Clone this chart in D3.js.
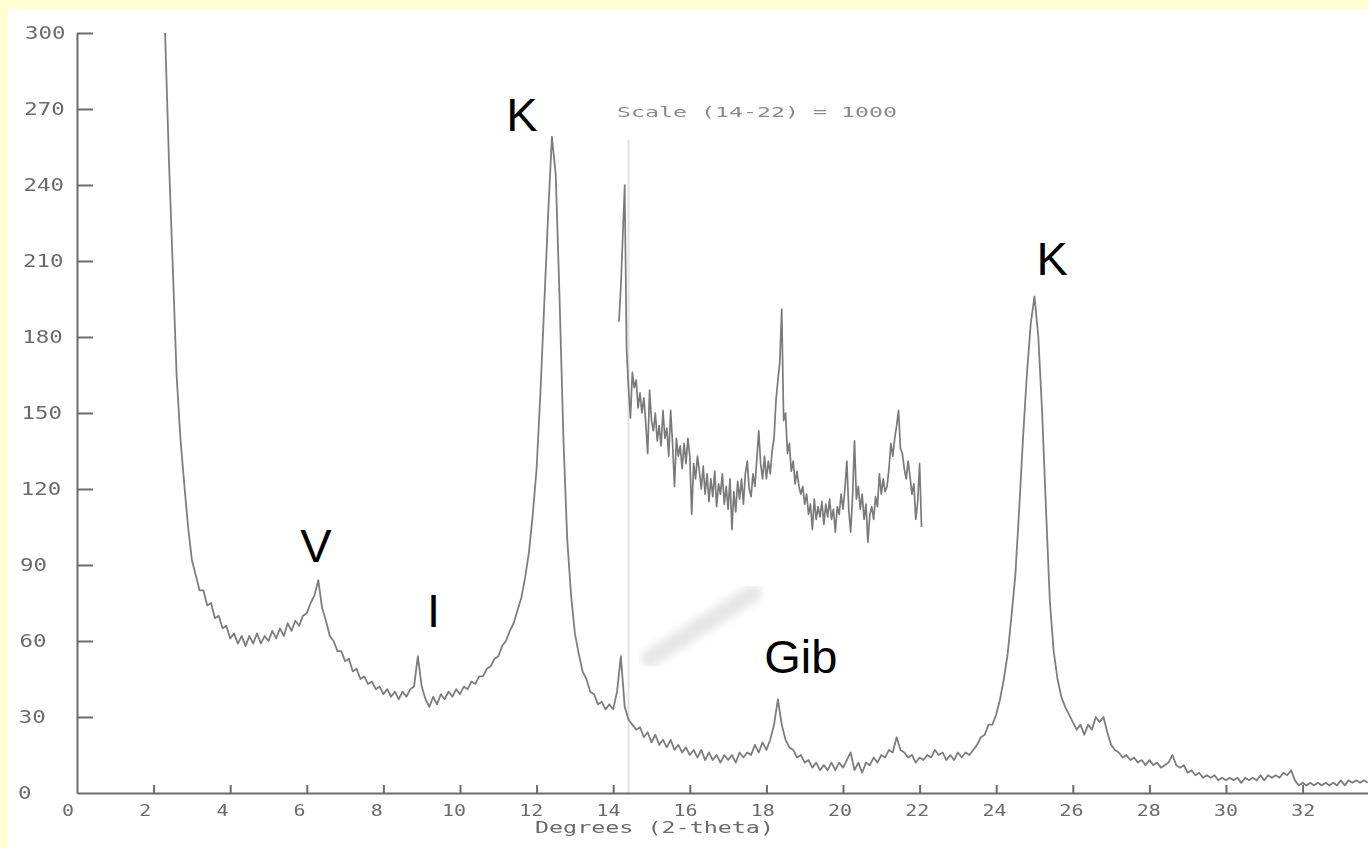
<!DOCTYPE html>
<html>
<head>
<meta charset="utf-8">
<script src="https://cdn.jsdelivr.net/npm/d3@7"></script>
<style>
body { margin: 0; background: #ffffd2; }
svg { display: block; }
</style>
</head>
<body>
<script>
var width = 1368, height = 848;

// main scan, one reading every 0.1 degree starting at 2.3
var mainStart = 2.3, mainStep = 0.1;
var mainCounts = [
  300, 250, 208, 165, 140, 122, 105,
  92, 86, 80, 80, 74, 75, 69, 70, 65, 66,
  61, 63, 59, 62, 58, 62, 59, 63, 59, 62,
  60, 64, 61, 65, 62, 67, 64, 68, 66, 70,
  71, 75, 78, 84, 73, 68, 62, 60, 56, 56,
  52, 53, 48, 49, 45, 46, 43, 44, 41, 42,
  39, 41, 38, 40, 37, 40, 38, 41, 42, 54,
  42, 37, 34, 38, 35, 39, 37, 40, 38, 41,
  39, 42, 41, 44, 43, 46, 46, 49, 50, 53,
  54, 58, 60, 64, 67, 72, 77, 85, 95, 110,
  128, 158, 193, 228, 259, 244, 195, 140, 100, 78,
  63, 55, 48, 45, 40, 39, 35, 36, 33, 35,
  33, 40, 54, 34, 29, 27, 25, 26, 22, 24,
  20, 23, 19, 21, 18, 21, 17, 19, 16, 18,
  15, 17, 14, 17, 13, 16, 13, 15, 12, 15,
  13, 15, 12, 16, 14, 16, 15, 19, 16, 20,
  17, 21, 27, 37, 27, 21, 18, 17, 14, 15,
  12, 13, 10, 12, 9, 11, 9, 12, 9, 12,
  10, 13, 16, 9, 12, 8, 12, 11, 14, 12,
  15, 14, 17, 16, 22, 17, 16, 14, 15, 12,
  14, 13, 15, 14, 17, 15, 16, 13, 15, 13,
  16, 14, 16, 15, 17, 19, 22, 23, 27, 27,
  31, 37, 45, 55, 70, 86, 112, 140, 165, 185,
  196, 180, 150, 112, 76, 56, 45, 38, 34, 31,
  28, 25, 27, 23, 27, 25, 30, 28, 30, 24,
  19, 17, 16, 14, 15, 13, 14, 12, 13, 11,
  13, 11, 12, 10, 11, 12, 15, 11, 10, 11,
  8, 9, 7, 8, 6, 7, 6, 7, 5, 6,
  5, 6, 5, 6, 4, 6, 5, 6, 5, 7,
  5, 7, 6, 7, 6, 8, 7, 9, 5, 3,
  4, 3, 4, 3, 4, 3, 4, 3, 4, 3,
  5, 3, 5, 4, 5, 4, 5, 4
];

// 14-22 degrees replotted at full scale 1000, every 0.05 degree from 14.15
var insetStart = 14.15, insetStep = 0.05;
var insetCounts = [
  186, 200, 220, 240, 175, 160, 148, 166, 160, 163,
  152, 158, 150, 156, 146, 134, 159, 147, 143, 150,
  139, 145, 137, 151, 140, 144, 133, 151, 138, 121,
  140, 133, 137, 128, 138, 130, 140, 133, 110, 130,
  124, 133, 127, 120, 129, 118, 126, 115, 124, 117,
  127, 113, 122, 118, 126, 114, 121, 112, 124, 104,
  119, 111, 123, 116, 124, 114, 126, 131, 120, 117,
  126, 121, 132, 143, 130, 124, 133, 124, 131, 126,
  135, 140, 155, 163, 170, 191, 147, 150, 134, 138,
  127, 131, 122, 127, 121, 118, 121, 114, 118, 110,
  114, 104, 116, 108, 113, 109, 115, 106, 114, 109,
  116, 108, 112, 103, 113, 110, 118, 112, 120, 131,
  112, 103, 117, 139, 116, 121, 112, 118, 108, 114,
  99, 110, 113, 108, 117, 113, 126, 118, 124, 119,
  121, 128, 138, 133, 140, 145, 151, 136, 134, 128,
  124, 131, 125, 118, 122, 108, 115, 130, 105
];

var xTicks = [2, 4, 6, 8, 10, 12, 14, 16, 18, 20, 22, 24, 26, 28, 30, 32];
var xLabels = [0, 2, 4, 6, 8, 10, 12, 14, 16, 18, 20, 22, 24, 26, 28, 30, 32];
var yTicks = [30, 60, 90, 120, 150, 180, 210, 240, 270, 300];
var yLabels = [0, 30, 60, 90, 120, 150, 180, 210, 240, 270, 300];

// mineral labels: name, angle under the label centre, count at the baseline
var peakNames = ["K", "V", "I", "Gib", "K"];
var peakAngles = [11.62, 6.24, 9.31, 18.9, 25.46];
var peakCounts = [261.5, 91.2, 65.5, 47.4, 204.5];

var svg = d3.select("body").append("svg")
  .attr("width", width)
  .attr("height", height);

// white paper on the yellow page
svg.append("rect").attr("x", 8).attr("y", 9)
  .attr("width", width - 8).attr("height", height - 9)
  .attr("fill", "#ffffff");

var x = d3.scaleLinear().domain([0, 33.7]).range([77, 77 + 33.7 * 38.3]);
var y = d3.scaleLinear().domain([0, 300]).range([793, 33]);

var ink = "#6b6b6b";
var plotFont = "'DejaVu Sans Mono', monospace";

var defs = svg.append("defs");
defs.append("filter").attr("id", "blur").append("feGaussianBlur").attr("stdDeviation", 4);
defs.append("filter").attr("id", "soft").append("feGaussianBlur").attr("stdDeviation", 0.45);

// scanner smudge and pen trace left on the paper
svg.append("line")
  .attr("x1", x(14.95)).attr("y1", y(53))
  .attr("x2", x(17.65)).attr("y2", y(79))
  .attr("stroke", "#e6e6e6").attr("stroke-width", 18)
  .attr("stroke-linecap", "round").attr("filter", "url(#blur)");
svg.append("line")
  .attr("x1", x(14.4)).attr("x2", x(14.4))
  .attr("y1", y(0)).attr("y2", y(258))
  .attr("stroke", "#e2e2e2").attr("stroke-width", 2);

// axes
var yAxis = d3.axisLeft(y).tickValues(yTicks).tickSize(-16).tickSizeOuter(0).tickFormat("");
var gy = svg.append("g").attr("transform", "translate(" + x(0) + ",0)").call(yAxis);
var xAxis = d3.axisBottom(x).tickValues(xTicks).tickSize(-8).tickSizeOuter(0).tickFormat("");
var gx = svg.append("g").attr("transform", "translate(0," + y(0) + ")").call(xAxis);
[gx, gy].forEach(function (g) {
  g.select(".domain").attr("stroke", ink).attr("stroke-width", 2);
  g.selectAll(".tick line").attr("stroke", ink).attr("stroke-width", 2);
});

// tick labels, stretched like the plotter lettering
var labels = svg.append("g").attr("filter", "url(#soft)");
labels.selectAll("text.ylab").data(yLabels).join("text")
  .attr("class", "ylab")
  .attr("x", function (d) { return 18 + d / 300 * 7; })
  .attr("y", function (d) { return y(d); })
  .attr("dy", "0.36em")
  .attr("textLength", function (d) { return String(d).length * 13.5; })
  .attr("lengthAdjust", "spacingAndGlyphs")
  .attr("font-family", plotFont).attr("font-size", 17).attr("fill", ink)
  .text(function (d) { return d; });

labels.selectAll("text.xlab").data(xLabels).join("text")
  .attr("class", "xlab")
  .attr("x", function (d) { return x(d) - 9 + d * 0.3; })
  .attr("y", 810).attr("dy", "0.36em")
  .attr("text-anchor", "middle")
  .attr("textLength", function (d) { return String(d).length * 12; })
  .attr("lengthAdjust", "spacingAndGlyphs")
  .attr("font-family", plotFont).attr("font-size", 16).attr("fill", ink)
  .text(function (d) { return d; });

labels.append("text")
  .attr("x", 535).attr("y", 827).attr("dy", "0.36em")
  .attr("textLength", 239).attr("lengthAdjust", "spacingAndGlyphs")
  .attr("font-family", plotFont).attr("font-size", 16).attr("fill", ink)
  .text("Degrees (2-theta)");

labels.append("text")
  .attr("x", x(14.1)).attr("y", 112).attr("dy", "0.36em")
  .attr("textLength", 280).attr("lengthAdjust", "spacingAndGlyphs")
  .attr("font-family", plotFont).attr("font-size", 14).attr("fill", "#8a8a8a")
  .text("Scale (14-22) = 1000");

// traces
var mainLine = d3.line()
  .x(function (d, i) { return x(mainStart + i * mainStep); })
  .y(function (d) { return y(d); });
var insetLine = d3.line()
  .x(function (d, i) { return x(insetStart + i * insetStep); })
  .y(function (d) { return y(d); });

var traces = svg.append("g").attr("filter", "url(#soft)");
traces.append("path").datum(mainCounts)
  .attr("d", mainLine)
  .attr("fill", "none").attr("stroke", "#7e7e7e").attr("stroke-width", 1.8)
  .attr("stroke-linejoin", "round");
traces.append("path").datum(insetCounts)
  .attr("d", insetLine)
  .attr("fill", "none").attr("stroke", "#7a7a7a").attr("stroke-width", 1.7)
  .attr("stroke-linejoin", "round");

// mineral labels
svg.append("g").selectAll("text").data(peakNames).join("text")
  .attr("x", function (d, i) { return x(peakAngles[i]); })
  .attr("y", function (d, i) { return y(peakCounts[i]); })
  .attr("text-anchor", "middle")
  .attr("font-family", "'Liberation Sans', Arial, sans-serif")
  .attr("font-size", 47).attr("fill", "#000")
  .text(function (d) { return d; });
</script>
</body>
</html>
